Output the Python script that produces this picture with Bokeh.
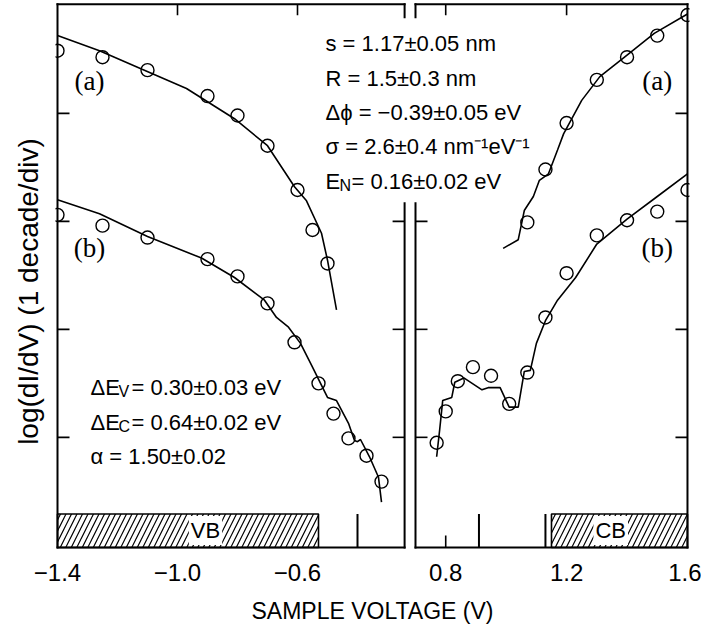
from bokeh.plotting import figure
from bokeh.models import Range1d, FixedTicker, Label
from bokeh.embed import file_html
from bokeh.resources import INLINE

# ---------------- data (log(dI/dV), in decades) ----------------
# valence-band side, curve (a)
vb_a_v = [-1.40, -1.25, -1.10, -0.90, -0.80, -0.70, -0.60, -0.55, -0.50]
vb_a_y = [4.58, 4.52, 4.40, 4.16, 3.98, 3.70, 3.29, 2.92, 2.61]
vb_a_fit_v = [-1.40, -1.26, -1.12, -0.97, -0.81, -0.70, -0.61, -0.57, -0.52, -0.50, -0.47]
vb_a_fit_y = [4.72, 4.58, 4.41, 4.23, 3.95, 3.70, 3.32, 3.19, 2.89, 2.64, 2.18]
# valence-band side, curve (b)
vb_b_v = [-1.40, -1.25, -1.10, -0.90, -0.80, -0.70, -0.61, -0.53, -0.48, -0.43, -0.37, -0.32]
vb_b_y = [3.06, 2.96, 2.85, 2.65, 2.49, 2.24, 1.88, 1.50, 1.22, 0.99, 0.83, 0.59]
vb_b_fit_v = [-1.40, -1.26, -1.10, -0.92, -0.81, -0.71, -0.67, -0.63, -0.59, -0.55,
              -0.50, -0.47, -0.43, -0.41, -0.40, -0.39, -0.36, -0.33, -0.32]
vb_b_fit_y = [3.20, 3.07, 2.86, 2.66, 2.48, 2.27, 2.11, 2.02, 1.87, 1.65,
              1.37, 1.34, 1.13, 0.97, 0.96, 0.98, 0.82, 0.63, 0.40]
# conduction-band side, curve (a)
cb_a_v = [1.07, 1.13, 1.20, 1.30, 1.40, 1.50, 1.60]
cb_a_y = [2.99, 3.48, 3.91, 4.31, 4.52, 4.72, 4.91]
cb_a_fit_v = [0.99, 1.04, 1.06, 1.09, 1.11, 1.14, 1.17, 1.19, 1.25, 1.31, 1.40, 1.49, 1.60]
cb_a_fit_y = [2.75, 2.83, 3.10, 3.23, 3.38, 3.44, 3.66, 3.81, 4.12, 4.34, 4.54, 4.74, 4.92]
# conduction-band side, curve (b)
cb_b_v = [0.77, 0.80, 0.84, 0.89, 0.95, 1.01, 1.07, 1.13, 1.20, 1.30, 1.40, 1.50, 1.60]
cb_b_y = [0.95, 1.24, 1.52, 1.65, 1.57, 1.31, 1.60, 2.11, 2.52, 2.87, 3.01, 3.09, 3.29]
cb_b_fit_v = [0.77, 0.78, 0.79, 0.82, 0.83, 0.86, 0.92, 0.94, 0.98, 1.01, 1.04,
              1.06, 1.08, 1.10, 1.13, 1.17, 1.23, 1.30, 1.40, 1.50, 1.60]
cb_b_fit_y = [0.82, 1.07, 1.34, 1.37, 1.51, 1.55, 1.44, 1.46, 1.46, 1.28, 1.28,
              1.61, 1.62, 1.87, 2.08, 2.27, 2.48, 2.79, 3.02, 3.23, 3.44]
# band edges / markers (V)
vb_edge = -0.53
vb_marks = [-0.40]
cb_marks = [0.91, 1.13]
cb_edge = 1.15
band_top = 0.29
# ticks
x_ticks_left = [-1.4, -1.0, -0.6]
x_ticks_right = [0.8, 1.2, 1.6]
x_labels_left = ["\u22121.4", "\u22121.0", "\u22120.6"]
x_labels_right = ["0.8", "1.2", "1.6"]
y_ticks = [1, 2, 3, 4]

# ---------------- layout ----------------
SANS = "Liberation Sans"
SERIF = "Liberation Serif"
PXV_L, PXV_R, PXD = 300.0, 302.2, 108.0
X0_L, X1_L = -1.4, -0.243
X0_R, X1_R = 0.70, 1.60
Y_BOT, Y_TOP = -0.02, 5.01
GAP_LO, GAP_HI = 3.167, 4.889
PAD = 2
FRAME_W, FRAME_H = 634, 547
R_OFFSET_PX = 358  # px between left-panel start and right-panel start

xm0 = X0_L - PAD / PXV_L
xm1 = xm0 + FRAME_W / PXV_L
xr0 = X0_R - (R_OFFSET_PX + PAD) / PXV_R
xr1 = xr0 + FRAME_W / PXV_R
ym0 = Y_BOT - PAD / PXD
ym1 = ym0 + FRAME_H / PXD
FL, FT = 55, 2  # frame left / top in page px


def to_main(r):
    return xm0 + (r - xr0) * PXV_R / PXV_L


def px_x(px):
    return xm0 + (px - FL) / PXV_L


def py_y(py):
    return ym1 - (py - FT) / PXD


p = figure(x_range=Range1d(xm0, xm1), y_range=Range1d(ym0, ym1),
           frame_width=FRAME_W, frame_height=FRAME_H,
           output_backend="svg", toolbar_location=None,
           min_border_left=FL, min_border_right=12, min_border_top=FT, min_border_bottom=80)
p.extra_x_ranges = {"right": Range1d(xr0, xr1)}
p.grid.visible = False
p.outline_line_color = None
p.background_fill_color = "white"
p.border_fill_color = "white"

# bottom axis: labels only
xa = p.xaxis[0]
main_ticks = x_ticks_left + [to_main(v) for v in x_ticks_right]
xa.ticker = FixedTicker(ticks=main_ticks, minor_ticks=[])
xa.major_label_overrides = {t: s for t, s in zip(main_ticks, x_labels_left + x_labels_right)}
xa.axis_line_color = None
xa.major_tick_line_color = None
xa.minor_tick_line_color = None
xa.major_tick_out = 0
xa.major_tick_in = 0
xa.major_label_standoff = 14
xa.major_label_text_font = SANS
xa.major_label_text_font_size = "24px"
xa.major_label_text_color = "black"
xa.axis_label = "SAMPLE VOLTAGE (V)"
xa.axis_label_text_font = SANS
xa.axis_label_text_font_size = "23px"
xa.axis_label_text_font_style = "normal"
xa.axis_label_text_color = "black"
xa.axis_label_standoff = 14

ya = p.yaxis[0]
ya.ticker = FixedTicker(ticks=[], minor_ticks=[])
ya.axis_line_color = None
ya.major_tick_line_color = None
ya.minor_tick_line_color = None
ya.major_tick_out = 0
ya.major_tick_in = 0
ya.axis_label = "log(dI/dV)    (1  decade/div)"
ya.axis_label_text_font = SANS
ya.axis_label_text_font_size = "28px"
ya.axis_label_text_font_style = "normal"
ya.axis_label_text_color = "black"
ya.axis_label_standoff = 12

TK_X, TK_Y = 12, 11
# ---- tick marks (drawn first, hatch boxes cover some) ----
for rn, x0, x1, pxv, xt, inner_left, inner_right in [
    ("default", X0_L, X1_L, PXV_L, x_ticks_left, False, True),
    ("right", X0_R, X1_R, PXV_R, x_ticks_right, True, False),
]:
    xs0, ys0, xs1, ys1 = [], [], [], []
    for y in y_ticks:
        if not (inner_left and GAP_LO < y < GAP_HI):
            xs0.append(x0); ys0.append(y); xs1.append(x0 + TK_X / pxv); ys1.append(y)
        if not (inner_right and GAP_LO < y < GAP_HI):
            xs0.append(x1); ys0.append(y); xs1.append(x1 - TK_X / pxv); ys1.append(y)
    for x in xt:
        if x0 < x < x1:
            xs0 += [x, x]; xs1 += [x, x]
            ys0 += [Y_TOP, Y_BOT]; ys1 += [Y_TOP - TK_Y / PXD, Y_BOT + TK_X / PXD]
    p.segment(xs0, ys0, xs1, ys1, x_range_name=rn, line_color="black", line_width=1.6)

# ---- hatched band regions ----
p.quad(left=[X0_L], right=[vb_edge], bottom=[Y_BOT], top=[band_top],
       fill_color="white", line_color="black", line_width=1.6,
       hatch_pattern="/", hatch_scale=11, hatch_weight=1.2, hatch_color="black")
p.quad(left=[cb_edge], right=[X1_R], bottom=[Y_BOT], top=[band_top], x_range_name="right",
       fill_color="white", line_color="black", line_width=1.6,
       hatch_pattern="/", hatch_scale=11, hatch_weight=1.2, hatch_color="black")
p.segment(vb_marks, [Y_BOT] * len(vb_marks), vb_marks, [band_top] * len(vb_marks),
          line_color="black", line_width=2)
p.segment(cb_marks, [Y_BOT] * len(cb_marks), cb_marks, [band_top] * len(cb_marks),
          x_range_name="right", line_color="black", line_width=2)

# ---- data ----
for xs, ys, rn in [(vb_a_fit_v, vb_a_fit_y, "default"), (vb_b_fit_v, vb_b_fit_y, "default"),
                   (cb_a_fit_v, cb_a_fit_y, "right"), (cb_b_fit_v, cb_b_fit_y, "right")]:
    p.line(xs, ys, x_range_name=rn, line_color="black", line_width=1.6)
for xs, ys, rn in [(vb_a_v, vb_a_y, "default"), (vb_b_v, vb_b_y, "default"),
                   (cb_a_v, cb_a_y, "right"), (cb_b_v, cb_b_y, "right")]:
    p.scatter(xs, ys, x_range_name=rn, marker="circle", size=13, fill_color=None,
              line_color="black", line_width=1.4)

# ---- panel frames ----
p.multi_line(xs=[[X0_L, X1_L], [X0_L, X1_L], [X0_L, X0_L], [X1_L, X1_L], [X1_L, X1_L]],
             ys=[[Y_TOP, Y_TOP], [Y_BOT, Y_BOT], [Y_BOT, Y_TOP], [Y_BOT, GAP_LO], [GAP_HI, Y_TOP]],
             line_color="black", line_width=2, line_cap="square")
p.multi_line(xs=[[X0_R, X1_R], [X0_R, X1_R], [X1_R, X1_R], [X0_R, X0_R], [X0_R, X0_R]],
             ys=[[Y_TOP, Y_TOP], [Y_BOT, Y_BOT], [Y_BOT, Y_TOP], [Y_BOT, GAP_LO], [GAP_HI, Y_TOP]],
             x_range_name="right", line_color="black", line_width=2, line_cap="square")


# ---- texts ----
def txt(x, y, s, size, font=SANS, rn="default", align="left", baseline="alphabetic", bg=None):
    lab = Label(x=x, y=y, text=s, x_range_name=rn, text_font=font,
                text_font_size=f"{size}px", text_align=align, text_baseline=baseline,
                text_color="black")
    if bg:
        lab.background_fill_color = bg
        lab.padding = 2
    p.add_layout(lab)


MAIN = 22
SUB = 16


def rich(px, cy, parts):
    # parts: list of (text, is_sub, x offset px)
    base = cy
    for s, is_sub, off in parts:
        if is_sub:
            txt(px_x(px + off), py_y(base + 4), s, SUB)
        else:
            txt(px_x(px + off), py_y(base), s, MAIN)


BX = 325
rich(BX, 43, [("s = 1.17\u00b10.05 nm", False, 0)])
rich(BX, 78, [("R = 1.5\u00b10.3 nm", False, 0)])
rich(BX, 112, [("\u0394\u03d5 = \u22120.39\u00b10.05 eV", False, 0)])
rich(BX, 146, [("\u03c3 = 2.6\u00b10.4 nm\u207b\u00b9eV\u207b\u00b9", False, 0)])
rich(BX, 181, [("E", False, 0), ("N", True, 14), ("= 0.16\u00b10.02 eV", False, 26)])

LX = 90
rich(LX, 387, [("\u0394E", False, 0), ("V", True, 28), (" = 0.30\u00b10.03 eV", False, 41)])
rich(LX, 422, [("\u0394E", False, 0), ("C", True, 28), (" = 0.64\u00b10.02 eV", False, 41)])
rich(LX, 456, [("\u03b1 = 1.50\u00b10.02", False, 0)])

# curve labels
txt(px_x(89), py_y(80), "(a)", 27, font=SERIF, align="center", baseline="middle")
txt(px_x(89), py_y(247), "(b)", 27, font=SERIF, align="center", baseline="middle")
txt(1.50, py_y(80), "(a)", 27, font=SERIF, rn="right", align="center", baseline="middle")
txt(1.50, py_y(247), "(b)", 27, font=SERIF, rn="right", align="center", baseline="middle")

# band labels
txt(px_x(205), py_y(530), "VB", 22, align="center", baseline="middle", bg="white")
txt(1.346, py_y(530), "CB", 22, rn="right", align="center", baseline="middle", bg="white")

open("out.html", "w").write(file_html(p, INLINE))
